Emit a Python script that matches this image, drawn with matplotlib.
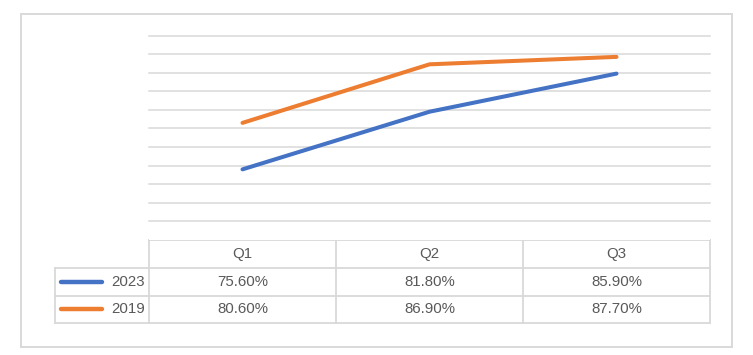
import matplotlib
matplotlib.use("Agg")
import matplotlib.pyplot as plt
from matplotlib.lines import Line2D
from matplotlib.patches import Rectangle

categories = ["Q1", "Q2", "Q3"]
series_names = ["2023", "2019"]
values_2023 = [75.6, 81.8, 85.9]
values_2019 = [80.6, 86.9, 87.7]
series_values = [values_2023, values_2019]
colors = ["#4472C4", "#ED7D31"]

W, H = 753, 355
fig = plt.figure(figsize=(W / 100, H / 100), dpi=100)
plt.rcParams['font.family'] = ['Liberation Sans', 'DejaVu Sans']

# layout in pixels
plot_l, plot_r = 149, 710
plot_top, plot_bot = 35.5, 240
leg_l = 55
row_edges = [240, 268, 296, 322.5]
grid_c = "#D9D9D9"
text_c = "#595959"

ax = fig.add_axes([plot_l / W, 1 - plot_bot / H, (plot_r - plot_l) / W, (plot_bot - plot_top) / H])
x = list(range(len(categories)))
for vals, c in zip(series_values, colors):
    ax.plot(x, vals, color=c, lw=2.9, solid_capstyle="round", zorder=3)
ax.set_xlim(-0.5, len(categories) - 0.5)
ax.set_ylim(68, 90)
ax.set_yticks(range(70, 91, 2))
ax.yaxis.grid(True, color=grid_c, lw=1.1)
for gl in ax.get_ygridlines():
    gl.set_clip_on(False)
ax.set_axisbelow(True)
ax.tick_params(left=False, bottom=False, labelleft=False, labelbottom=False)
for s in ax.spines.values():
    s.set_visible(False)

# overlay for frame and data table
ov = fig.add_axes([0, 0, 1, 1], zorder=-1)
ov.set_xlim(0, W)
ov.set_ylim(H, 0)
ov.axis("off")
ov.patch.set_alpha(0)
ov.add_patch(Rectangle((21, 14), 711, 333, fill=False, ec=grid_c, lw=1.4))

col_w = (plot_r - plot_l) / len(categories)
col_edges = [plot_l + i * col_w for i in range(len(categories) + 1)]
lw = 1.3
# horizontal lines
ov.plot([plot_l, plot_r], [row_edges[0]] * 2, color=grid_c, lw=lw)
for y in row_edges[1:]:
    ov.plot([leg_l, plot_r], [y, y], color=grid_c, lw=lw)
# vertical lines
ov.plot([leg_l, leg_l], [row_edges[1], row_edges[-1]], color=grid_c, lw=lw)
for xe in col_edges:
    ov.plot([xe, xe], [row_edges[0], row_edges[-1]], color=grid_c, lw=lw)

fs = 10.8
for i, cat in enumerate(categories):
    cx = (col_edges[i] + col_edges[i + 1]) / 2
    ov.text(cx, (row_edges[0] + row_edges[1]) / 2, cat, ha="center", va="center",
            fontsize=fs, color=text_c)
for r, (name, vals, c) in enumerate(zip(series_names, series_values, colors)):
    cy = (row_edges[r + 1] + row_edges[r + 2]) / 2
    ov.add_line(Line2D([61, 102], [cy, cy], color=c, lw=3.2, solid_capstyle="round"))
    ov.text(145, cy, name, ha="right", va="center", fontsize=fs, color=text_c)
    for i, v in enumerate(vals):
        cx = (col_edges[i] + col_edges[i + 1]) / 2
        ov.text(cx, cy, f"{v:.2f}%", ha="center", va="center", fontsize=fs, color=text_c)

fig.savefig("out.png", dpi=100, facecolor="white")
